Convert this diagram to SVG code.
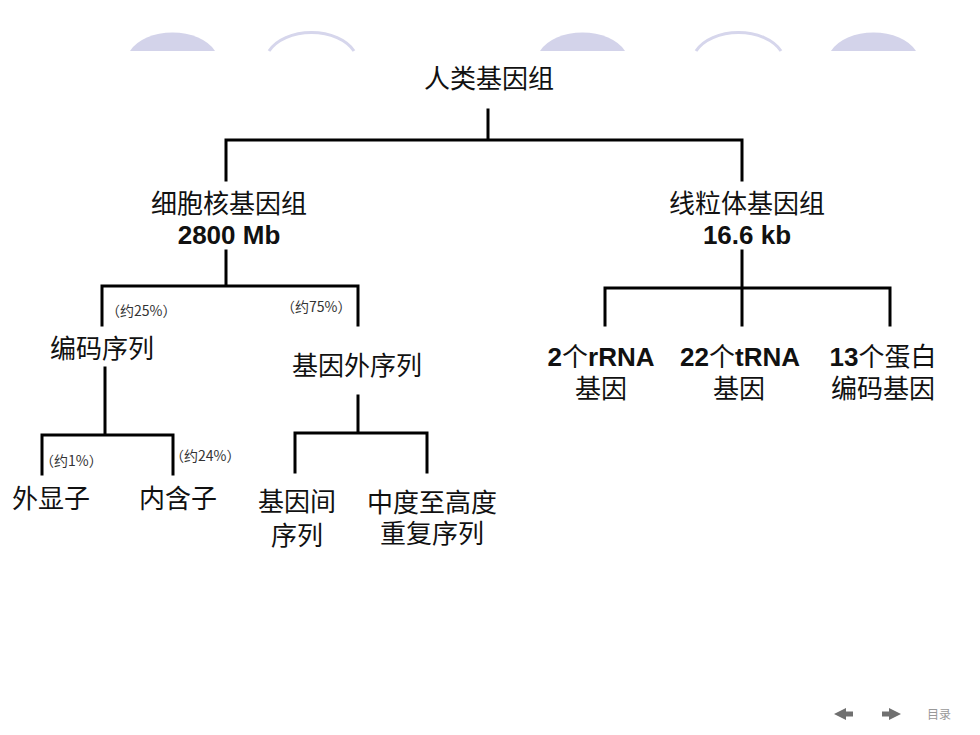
<svg xmlns="http://www.w3.org/2000/svg" width="980" height="735" viewBox="0 0 980 735">
<style>
.cjk{font-family:"Noto Sans CJK SC","Liberation Sans",sans-serif;font-size:26px;fill:#111;text-anchor:middle}
.lat{font-family:"Liberation Sans","Noto Sans CJK SC",sans-serif;font-weight:bold}
.pct{font-family:"Noto Sans CJK SC","Liberation Sans",sans-serif;font-size:14px;fill:#333}
.ln{stroke:#000;stroke-width:3;fill:none;stroke-linecap:square}
.dome{fill:#d3d3ea}
.arc{fill:none;stroke:#d6d6ec;stroke-width:3}
</style>
<rect width="980" height="735" fill="#fff"/>
<g id="decor">
<path class="dome" d="M130,51 A46,30 0 0 1 215,51 Z"/>
<path class="arc" d="M269,51 A46,30 0 0 1 354,51"/>
<path class="dome" d="M540,51 A46,30 0 0 1 625,51 Z"/>
<path class="arc" d="M696,51 A46,30 0 0 1 781,51"/>
<path class="dome" d="M831,51 A46,30 0 0 1 916,51 Z"/>
</g>
<g id="connectors">
<path class="ln" d="M488,110 V140 M226,140 H742 M226,140 V180 M742,140 V180"/>
<path class="ln" d="M226,251 V286 M102,286 H358 M102,286 V325 M358,286 V325"/>
<path class="ln" d="M105,368 V435 M42,435 H173 M42,435 V474 M173,435 V474"/>
<path class="ln" d="M358,396 V433 M295,433 H427 M295,433 V472 M427,433 V472"/>
<path class="ln" d="M742,251 V288 M605,288 H890 M605,288 V325 M742,288 V325 M890,288 V325"/>
</g>
<g id="n-root"><text class="cjk" x="489" y="88">人类基因组</text></g>
<g id="n-nuclear">
<text class="cjk" x="229" y="213">细胞核基因组<tspan class="lat" x="229" dy="31">2800 Mb</tspan></text>
</g>
<g id="n-mito">
<text class="cjk" x="747" y="213">线粒体基因组<tspan class="lat" x="747" dy="31">16.6 kb</tspan></text>
</g>
<g id="n-coding">
<text class="pct" x="106" y="316">（约25%）</text>
<text class="cjk" x="102" y="358">编码序列</text>
</g>
<g id="n-extragenic">
<text class="pct" x="281" y="312">（约75%）</text>
<text class="cjk" x="357" y="375">基因外序列</text>
</g>
<g id="n-exon">
<text class="pct" x="40" y="466">（约1%）</text>
<text class="cjk" x="51" y="508">外显子</text>
</g>
<g id="n-intron">
<text class="pct" x="170" y="461">（约24%）</text>
<text class="cjk" x="178" y="508">内含子</text>
</g>
<g id="n-intergenic">
<text class="cjk" x="297" y="511">基因间<tspan x="297" dy="34">序列</tspan></text>
</g>
<g id="n-repeat">
<text class="cjk" x="432" y="512">中度至高度<tspan x="432" dy="31">重复序列</tspan></text>
</g>
<g id="n-rrna">
<text class="cjk" x="601" y="366"><tspan class="lat">2</tspan>个<tspan class="lat">rRNA</tspan><tspan x="601" dy="32">基因</tspan></text>
</g>
<g id="n-trna">
<text class="cjk" x="740" y="366"><tspan class="lat">22</tspan>个<tspan class="lat">tRNA</tspan><tspan x="739" dy="32">基因</tspan></text>
</g>
<g id="n-protein">
<text class="cjk" x="883" y="366"><tspan class="lat">13</tspan>个蛋白<tspan x="883" dy="32">编码基因</tspan></text>
</g>
<g id="nav" fill="#707070">
<polygon points="834,714 846,708 846,720"/>
<rect x="845" y="711.5" width="8" height="5"/>
<polygon points="901,714 889,708 889,720"/>
<rect x="882" y="711.5" width="8" height="5"/>
<text x="927" y="719" font-family="Noto Sans CJK SC,sans-serif" font-size="12" fill="#999">目录</text>
</g>
</svg>
